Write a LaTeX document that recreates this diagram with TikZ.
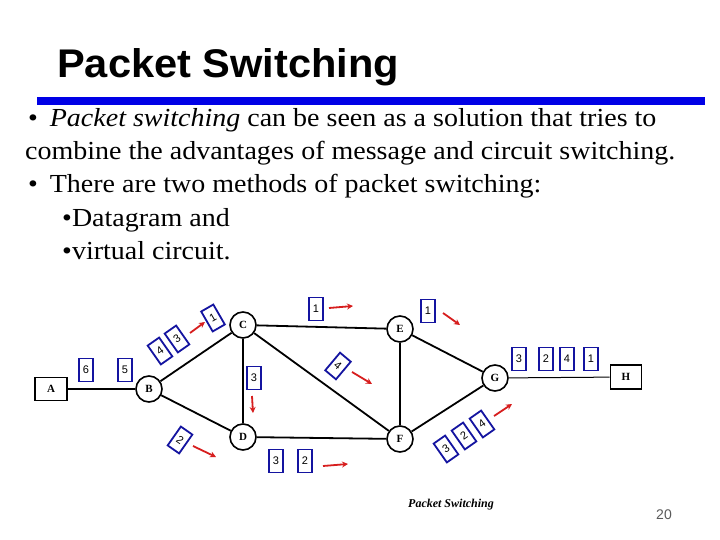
\documentclass[tikz,border=0pt]{standalone}
\usepackage{fontspec}
\setmainfont{Liberation Serif}
\newfontfamily\arialf{Liberation Sans}
\usetikzlibrary{arrows.meta}
\definecolor{barblue}{RGB}{0,0,230}
\definecolor{pktblue}{RGB}{20,20,160}
\definecolor{arrred}{RGB}{215,30,30}
\definecolor{pgnum}{RGB}{90,90,90}
\begin{document}
\begin{tikzpicture}[x=1pt,y=-1pt,
  router/.style={circle,draw,line width=1.6pt,minimum size=26pt,inner sep=0pt,font=\fontsize{11}{11}\selectfont\bfseries},
  host/.style={rectangle,draw,line width=1.6pt,minimum width=32pt,minimum height=23pt,inner sep=0pt,font=\fontsize{11}{11}\selectfont\bfseries},
  link/.style={line width=1.8pt},
  pkt/.style={draw=pktblue,line width=1.8pt,minimum width=14pt,minimum height=23pt,inner sep=0pt,font=\arialf\fontsize{11}{11}\selectfont},
  move/.style={draw=arrred,line width=1.8pt,-{Stealth[length=6pt,width=6pt]}},
  body/.style={anchor=base west,inner sep=0pt,xscale=1.077,font=\fontsize{26}{30}\selectfont}]
\useasboundingbox (0,0) rectangle (720,540);
\fill[white] (0,0) rectangle (720,540);
% title and bar
\node[anchor=base west,inner sep=0pt,xscale=1.04,font=\arialf\bfseries\fontsize{40}{42}\selectfont] (title) at (57,78) {Packet Switching};
\fill[barblue] (37,97) rectangle (705,105);
% body text
\node[body] (b1) at (28,127) {\textbullet\hspace{11pt}\textit{Packet switching} can be seen as a solution that tries to};
\node[body] (b2) at (25,160) {combine the advantages of message and circuit switching.};
\node[body] (b3) at (28,193) {\textbullet\hspace{11pt}There are two methods of packet switching:};
\node[body] (b4) at (62,226) {\textbullet Datagram and};
\node[body] (b5) at (62,259) {\textbullet virtual circuit.};
% network nodes
\node[host] (A) at (51,389) {A};
\node[router] (B) at (149,389) {B};
\node[router] (C) at (243,325) {C};
\node[router] (E) at (400,329) {E};
\node[router] (G) at (495,378) {G};
\node[host,minimum width=31pt,minimum height=24pt] (H) at (626,377) {H};
\node[router] (D) at (243,437) {D};
\node[router] (F) at (400,439) {F};
% links
\draw[link] (A) -- (B);
\draw[link] (B) -- (C);
\draw[link] (B) -- (D);
\draw[link] (C) -- (E);
\draw[link] (C) -- (D);
\draw[link] (C) -- (F);
\draw[link] (E) -- (F);
\draw[link] (E) -- (G);
\draw[link] (F) -- (G);
\draw[line width=1pt] (G) -- (H);
\draw[link] (D) -- (F);
% packets
\node[pkt] (p6) at (86,370) {6};
\node[pkt] (p5) at (125,370) {5};
\node[pkt,rotate=35] (p4a) at (160,351) {4};
\node[pkt,rotate=35] (p3a) at (177,339) {3};
\node[pkt,rotate=30] (p1a) at (213,318) {1};
\node[pkt] (p3b) at (254,378) {3};
\node[pkt] (p1b) at (316,309) {1};
\node[pkt] (p1c) at (428,311) {1};
\node[pkt,rotate=-40] (p4b) at (338,366) {4};
\node[pkt] (q3) at (519,359) {3};
\node[pkt] (q2) at (546,359) {2};
\node[pkt] (q4) at (567,359) {4};
\node[pkt] (q1) at (591,359) {1};
\node[pkt,rotate=-35] (p2a) at (180,440) {2};
\node[pkt] (p3c) at (276,461) {3};
\node[pkt] (p2b) at (305,461) {2};
\node[pkt,rotate=35] (r3) at (446,449) {3};
\node[pkt,rotate=35] (r2) at (464,436) {2};
\node[pkt,rotate=35] (r4) at (482,424) {4};
% movement arrows
\coordinate (m1s) at (190,333); \coordinate (m1e) at (205,322);
\coordinate (m2s) at (329,308); \coordinate (m2e) at (353,306);
\coordinate (m3s) at (443,313); \coordinate (m3e) at (460,325);
\coordinate (m4s) at (352,372); \coordinate (m4e) at (372,384);
\coordinate (m5s) at (252,396); \coordinate (m5e) at (253,413);
\coordinate (m6s) at (193,446); \coordinate (m6e) at (216,457);
\coordinate (m7s) at (323,466); \coordinate (m7e) at (348,464);
\coordinate (m8s) at (494,416); \coordinate (m8e) at (512,404);
\draw[move] (m1s) -- (m1e);
\draw[move] (m2s) -- (m2e);
\draw[move] (m3s) -- (m3e);
\draw[move] (m4s) -- (m4e);
\draw[move] (m5s) -- (m5e);
\draw[move] (m6s) -- (m6e);
\draw[move] (m7s) -- (m7e);
\draw[move] (m8s) -- (m8e);
% caption and page number
\node[inner sep=0pt,font=\fontsize{12}{12}\selectfont\bfseries\itshape] (cap) at (451,505) {Packet Switching};
\node[inner sep=0pt,text=pgnum,font=\arialf\fontsize{14}{14}\selectfont] (pg) at (664,515) {20};
\end{tikzpicture}
\end{document}
